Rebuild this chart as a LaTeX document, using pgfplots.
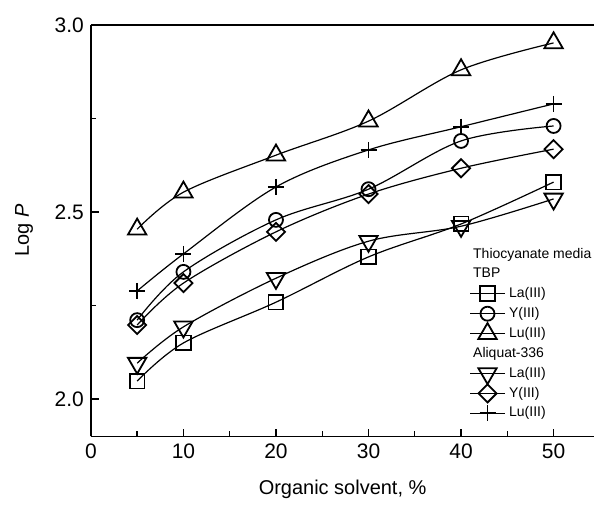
\documentclass[border=0pt]{standalone}
\usepackage{fontspec}
\setmainfont{Liberation Sans}
\usepackage{pgfplots}
\pgfplotsset{compat=1.18}
\usetikzlibrary{calc}

\newcommand{\hdr}[1]{\makebox[0pt][l]{\hspace*{-18pt}#1}}

\begin{document}
\begin{tikzpicture}
\begin{axis}[
  scale only axis,width=252pt,height=206pt,
  xmin=0,xmax=54.4,ymin=1.9,ymax=3.0,
  axis x line*=bottom,axis y line*=left,axis line style={-,line width=0.7pt},
  xtick={0,10,...,50},minor xtick={5,15,...,45},
  ytick={2.0,2.5,3.0},minor ytick={2.25,2.75},
  tick align=inside,major tick length=4pt,minor tick length=2.5pt,
  tick style={line width=0.7pt,black},
  tick label style={font=\fontsize{10.5}{12}\selectfont},
  /pgf/number format/assume math mode=true,
  yticklabel style={/pgf/number format/fixed,/pgf/number format/fixed zerofill,/pgf/number format/precision=1},
  xlabel={Organic solvent, \%},ylabel={Log \textit{P}},
  label style={font=\fontsize{10}{12}\selectfont},
  xlabel style={yshift=-4pt},ylabel style={yshift=4pt},
  clip=false,
  legend cell align=left,
  legend style={draw=none,fill=none,at={(0.752,0.469)},anchor=north west,
    font=\fontsize{7}{8}\selectfont,inner sep=0pt,row sep=-0.6pt},
  every axis plot/.append style={black,line width=0.6pt,smooth,tension=0.55},
]
\coordinate (O) at (rel axis cs:0,0);
\draw[line width=0.7pt] (rel axis cs:0,1) -- (rel axis cs:1,1);

\addlegendimage{empty legend}\addlegendentry{\hdr{Thiocyanate media}}
\addlegendimage{empty legend}\addlegendentry{\hdr{TBP}}

% TBP
\addplot[mark=square,mark size=3.7pt,mark options={solid,line width=0.9pt}] coordinates
  {(5,2.048) (10,2.150) (20,2.259) (30,2.380) (40,2.468) (50,2.580)};
\addlegendentry{La(III)}
\addplot[mark=o,mark size=3.5pt,mark options={solid,line width=0.9pt}] coordinates
  {(5,2.211) (10,2.340) (20,2.479) (30,2.561) (40,2.690) (50,2.730)};
\addlegendentry{Y(III)}
\addplot[mark=triangle,mark size=5.3pt,mark options={solid,line width=0.9pt}] coordinates
  {(5,2.454) (10,2.553) (20,2.652) (30,2.743) (40,2.880) (50,2.952)};
\addlegendentry{Lu(III)}

\addlegendimage{empty legend}\addlegendentry{\hdr{Aliquat-336}}

% Aliquat-336
\addplot[mark=triangle,mark size=5.3pt,mark options={solid,line width=0.9pt,rotate=180}] coordinates
  {(5,2.096) (10,2.193) (20,2.323) (30,2.422) (40,2.462) (50,2.535)};
\addlegendentry{La(III)}
\addplot[mark=square,mark size=3.2pt,mark options={solid,line width=0.9pt,rotate=45}] coordinates
  {(5,2.198) (10,2.310) (20,2.447) (30,2.548) (40,2.617) (50,2.668)};
\addlegendentry{Y(III)}
\addplot[mark=+,mark size=4pt,mark options={solid,line width=0.9pt}] coordinates
  {(5,2.289) (10,2.388) (20,2.567) (30,2.666) (40,2.728) (50,2.789)};
\addlegendentry{Lu(III)}
\end{axis}
\path[use as bounding box] ($(O)+(-45.5pt,-35pt)$) rectangle ($(O)+(252pt,218.5pt)$);
\end{tikzpicture}
\end{document}
